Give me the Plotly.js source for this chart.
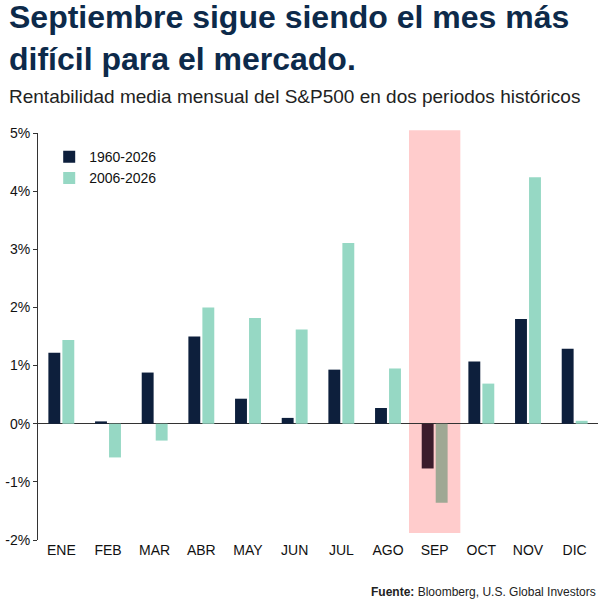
<!DOCTYPE html>
<html>
<head>
<meta charset="utf-8">
<script src="https://cdn.plot.ly/plotly-3.0.1.min.js"></script>
<style>body{margin:0;background:#fff}</style>
</head>
<body>
<div id="chart" style="width:600px;height:600px"></div>
<script>
const months = ["ENE","FEB","MAR","ABR","MAY","JUN","JUL","AGO","SEP","OCT","NOV","DIC"];
const long1960 = [1.22, 0.04, 0.88, 1.50, 0.43, 0.10, 0.93, 0.27, -0.77, 1.07, 1.80, 1.29];
const recent2006 = [1.44, -0.58, -0.29, 2.00, 1.82, 1.62, 3.11, 0.95, -1.36, 0.69, 4.24, 0.05];
const yTicks = [-2, -1, 0, 1, 2, 3, 4, 5];

const font = "'Liberation Sans', Arial, sans-serif";
// September bars look tinted through the pink highlight
const darkCols = months.map(m => m === "SEP" ? "#3b1c2c" : "#0d1f3c");
const lightCols = months.map(m => m === "SEP" ? "#9fa894" : "#96d8c4");

const data = [
  {type: "bar", name: "1960-2026", x: months, y: long1960, marker: {color: darkCols}},
  {type: "bar", name: "2006-2026", x: months, y: recent2006, marker: {color: lightCols}}
];

const layout = {
  width: 600, height: 600,
  margin: {l: 38, r: 2, t: 133, b: 60},
  barmode: "group", bargap: 0.4, bargroupgap: 0.15,
  font: {family: font, size: 14, color: "#111"},
  showlegend: true,
  legend: {x: 0.02, y: 0.98, xanchor: "left", yanchor: "top", font: {size: 14}, bgcolor: "rgba(0,0,0,0)"},
  xaxis: {tickfont: {size: 14}, showgrid: false, showline: false, ticks: ""},
  yaxis: {
    range: [-2, 5], tickvals: yTicks, ticktext: yTicks.map(v => v + "%"),
    showgrid: false, zeroline: true, zerolinecolor: "#333", zerolinewidth: 1,
    showline: true, linecolor: "#333", ticks: "outside", ticklen: 4, tickcolor: "#333",
    tickfont: {size: 14}
  },
  shapes: [{
    type: "rect", xref: "x", yref: "paper", x0: 7.45, x1: 8.55, y0: 0.017, y1: 1.007,
    fillcolor: "#ffcccc", line: {width: 0}, layer: "below"
  }],
  annotations: [
    {xref: "paper", yref: "paper", x: -0.055, y: 1.335, xanchor: "left", yanchor: "top", align: "left",
     text: "<b>Septiembre sigue siendo el mes más<br>difícil para el mercado.</b>",
     showarrow: false, font: {family: font, size: 32, color: "#0d2a4a"}},
    {xref: "paper", yref: "paper", x: -0.055, y: 1.12, xanchor: "left", yanchor: "top",
     text: "Rentabilidad media mensual del S&P500 en dos periodos históricos",
     showarrow: false, font: {family: font, size: 19, color: "#222"}},
    {xref: "paper", yref: "paper", x: 1, y: -0.105, xanchor: "right", yanchor: "top",
     text: "<b>Fuente:</b> Bloomberg, U.S. Global Investors",
     showarrow: false, font: {family: font, size: 12, color: "#222"}}
  ]
};

Plotly.newPlot("chart", data, layout, {displayModeBar: false});
</script>
</body>
</html>
